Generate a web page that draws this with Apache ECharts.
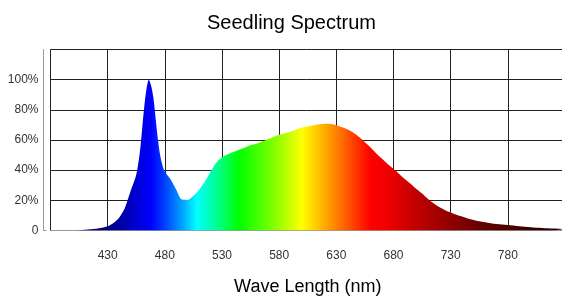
<!DOCTYPE html>
<html>
<head>
<meta charset="utf-8">
<script src="https://cdn.jsdelivr.net/npm/echarts@6/dist/echarts.min.js"></script>
<style>
  html, body { margin: 0; padding: 0; background: #fff; }
  #main { width: 562px; height: 298px; }
</style>
</head>
<body>
<div id="main"></div>
<script>
// wavelength (nm) and relative intensity (%)
var waveLengths = [380, 385, 390, 395, 400, 405, 410, 415, 420, 425, 430, 435, 440, 445, 450, 455, 458, 460, 462, 464, 466, 468, 470, 472, 474, 476, 478, 480, 485, 490, 495, 500, 505, 510, 515, 520, 525, 530, 535, 540, 545, 550, 555, 560, 565, 570, 575, 580, 585, 590, 595, 600, 605, 610, 615, 620, 625, 630, 635, 640, 645, 650, 655, 660, 665, 670, 675, 680, 685, 690, 695, 700, 705, 710, 715, 720, 725, 730, 735, 740, 745, 750, 755, 760, 765, 770, 775, 780, 790, 800, 810, 820, 830];
var intensity = [0, 0, 0, 0, 0, 0.2, 0.5, 0.8, 1.2, 1.8, 2.8, 5, 8.5, 15, 26, 37, 51, 66, 82, 94, 100, 96, 88, 74, 60, 49.5, 43, 39, 34, 27, 20.5, 20.3, 23, 27, 32.5, 39, 45, 48.5, 50.5, 52, 53.5, 55, 56.5, 57.5, 59, 60.5, 62, 63.5, 64.5, 65.5, 67, 68.3, 69, 69.8, 70.5, 70.8, 70.6, 69.8, 68.5, 67, 64.8, 62, 58.5, 55, 51, 47.5, 44, 41, 37.5, 34, 31, 27.5, 24.5, 21, 18, 15.5, 13.5, 12, 10.5, 9.2, 8, 7, 6.2, 5.5, 4.8, 4.3, 4, 3.6, 2.8, 2.2, 1.7, 1.3, 1];
var xMin = 380, xMax = 830, xStep = 50;
var yMin = 0, yMax = 120, yStep = 20;

var chart = echarts.init(document.getElementById('main'));

// colour of the fill along the wavelength
var spectrum = [
  [380, '#000030'], [410, '#000050'], [430, '#000080'], [450, '#0000c0'],
  [468, '#0000ff'], [480, '#0040ff'], [495, '#00a0ff'], [508, '#00ffff'],
  [528, '#00ff80'], [545, '#00ff00'], [575, '#80ff00'], [600, '#ffff00'],
  [630, '#ff8000'], [660, '#ff0000'], [675, '#f00000'], [700, '#c00000'],
  [730, '#900000'], [760, '#600000'], [800, '#380000'], [830, '#200000']
];
var stops = spectrum.map(function (s) {
  return { offset: (s[0] - xMin) / (xMax - xMin), color: s[1] };
});

var points = waveLengths.map(function (w, i) { return [w, intensity[i]]; });

var font = 'Liberation Sans, Arial, sans-serif';

var option = {
  animation: false,
  title: {
    text: 'Seedling Spectrum',
    left: 202,
    top: 8,
    textStyle: { fontFamily: font, fontSize: 20, fontWeight: 'normal', color: '#000' }
  },
  grid: { left: 50.5, right: -3, top: 49.5, bottom: 67.5, outerBoundsMode: 'none', containLabel: false },
  xAxis: [{
    // grid lines
    type: 'value', min: xMin, max: xMax, interval: xStep,
    axisLine: { show: false }, axisTick: { show: false }, axisLabel: { show: false },
    splitLine: { show: true, lineStyle: { color: '#222', width: 1 } }
  }, {
    // offset bottom axis with labels
    type: 'value', min: xMin, max: xMax, interval: xStep,
    position: 'bottom',
    offset: 10,
    name: 'Wave Length (nm)',
    nameLocation: 'middle',
    nameGap: 38,
    nameTextStyle: { fontFamily: font, fontSize: 18, color: '#000' },
    axisLine: { show: true, lineStyle: { color: '#999', width: 1 } },
    axisTick: { show: true, inside: true, length: 4, customValues: [xMin], lineStyle: { color: '#999' } },
    axisLabel: {
      showMinLabel: false, showMaxLabel: false, margin: 9,
      fontFamily: font, fontSize: 12, color: '#333'
    },
    splitLine: { show: false }
  }],
  yAxis: [{
    type: 'value', min: yMin, max: yMax, interval: yStep,
    axisLine: { show: false }, axisTick: { show: false }, axisLabel: { show: false },
    splitLine: { show: true, lineStyle: { color: '#222', width: 1 } }
  }, {
    type: 'value', min: yMin, max: yMax, interval: yStep,
    position: 'left',
    offset: 7,
    axisLine: { show: true, lineStyle: { color: '#999', width: 1 } },
    axisTick: { show: true, inside: true, length: 3, customValues: [yMin, yMax], lineStyle: { color: '#999' } },
    axisLabel: {
      showMaxLabel: false, margin: 5,
      fontFamily: font, fontSize: 12, color: '#333',
      formatter: function (v) { return v === 0 ? '0' : v + '%'; }
    },
    splitLine: { show: false }
  }],
  series: [{
    type: 'line',
    xAxisIndex: 0,
    yAxisIndex: 0,
    data: points,
    symbol: 'none',
    smooth: 0.3,
    lineStyle: { width: 0 },
    areaStyle: {
      opacity: 1,
      color: new echarts.graphic.LinearGradient(0, 0, 1, 0, stops)
    }
  }]
};

chart.setOption(option);
</script>
</body>
</html>
